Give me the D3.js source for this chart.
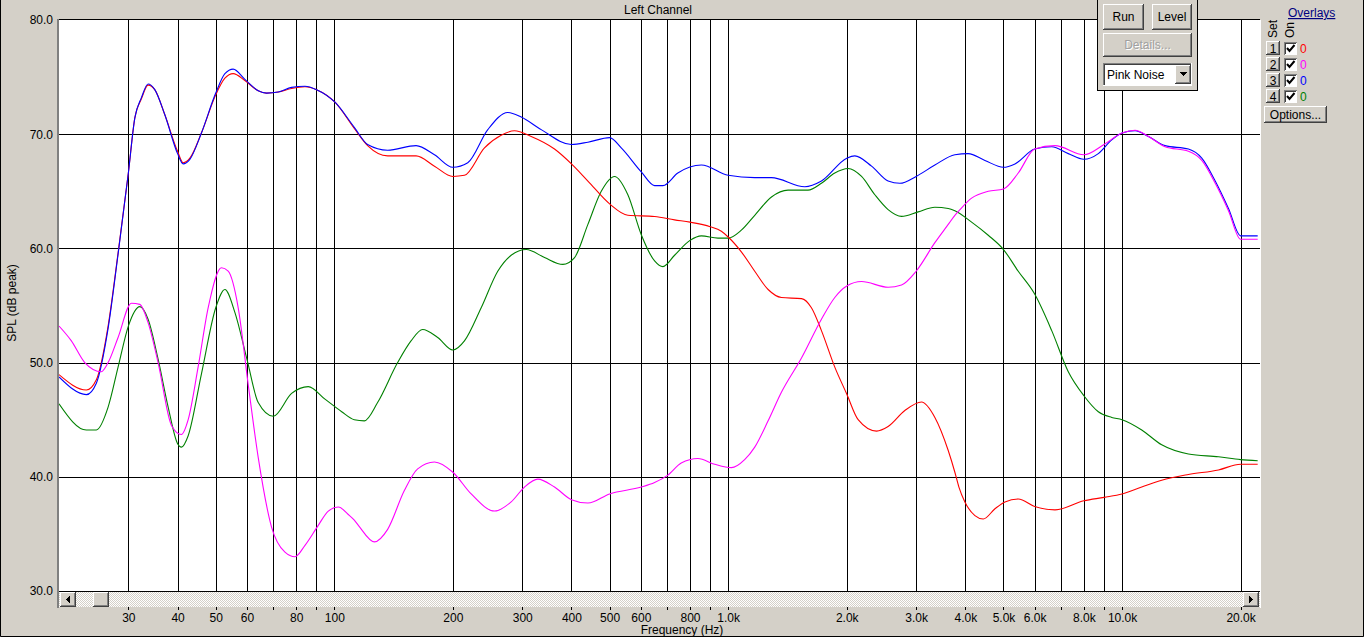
<!DOCTYPE html>
<html><head><meta charset="utf-8">
<script src="https://cdn.jsdelivr.net/npm/d3@7"></script>
<style>
html,body{margin:0;padding:0;background:#D4D0C8;overflow:hidden}
svg{display:block;font-family:"Liberation Sans",Arial,sans-serif;font-size:12px}
</style></head><body>
<svg id="chart" width="1364" height="637"></svg>
<script>
// ---------- DATA ----------
const gridFreqs = [30,40,50,60,70,80,90,100,200,300,400,500,600,700,800,900,1000,2000,3000,4000,5000,6000,7000,8000,9000,10000,20000];
const labelFreqs = [30,40,50,60,80,100,200,300,400,500,600,800,1000,2000,3000,4000,5000,6000,8000,10000,20000];
const labelTexts = ["30","40","50","60","80","100","200","300","400","500","600","800","1.0k","2.0k","3.0k","4.0k","5.0k","6.0k","8.0k","10.0k","20.0k"];
const dbTicks = [30,40,50,60,70,80];
const dbGrid = [40,50,60,70];

// Overlay 1 (red)
const set1 = [[20,48.95],[23.47,47.6],[24.88,48.5],[26.65,53.2],[28.25,59.6],[30,66.6],[31.15,71.4],[32.38,73.1],[33.67,74.3],[35.01,73.9],[37.13,71.7],[40,68.5],[41.33,67.5],[42.98,67.9],[45.98,70.1],[50,73.45],[52.75,74.9],[55.37,75.3],[59.29,74.7],[64.09,73.8],[67.29,73.6],[72.07,73.7],[77.9,74.0],[84.25,74.15],[90.15,73.9],[100.4,72.8],[112.4,70.5],[121.5,69.0],[136.6,68.1],[161.3,68.1],[179.6,67.2],[200,66.3],[214,66.4],[240.6,68.8],[265.2,69.9],[286.7,70.3],[316.2,69.8],[362.3,68.7],[400,67.4],[440.4,65.9],[500,63.9],[556.3,62.9],[650.4,62.8],[731,62.5],[800,62.3],[900,61.9],[961,61.5],[1000,61.0],[1080,59.7],[1168,58.0],[1263,56.4],[1365,55.7],[1535,55.6],[1627,54.8],[1725,52.8],[1865,49.6],[2000,47.25],[2138,45.0],[2381,44.0],[2547,44.4],[2809,45.8],[3097,46.55],[3348,45.2],[3620,42.3],[3763,40.4],[3853,39.1],[3990,37.8],[4231,36.6],[4442,36.3],[4757,37.2],[5043,37.8],[5451,38.05],[6000,37.4],[6757,37.1],[8000,37.9],[9000,38.2],[10000,38.5],[11220,39.1],[12610,39.7],[14740,40.2],[17570,40.6],[20000,41.1],[22100,41.1]];

// Overlay 2 (magenta)
const set2 = [[20,53.2],[21.5,51.9],[23.25,50.0],[25.62,49.2],[26.65,50.0],[28.25,52.2],[30.54,55.2],[32.08,55.1],[33.67,53.5],[35.7,50.0],[38.6,44.5],[40.92,43.7],[42.56,45.0],[45.1,49.6],[47.83,54.8],[51.71,58.3],[53.78,58.0],[57.02,54.8],[60.44,48.1],[64.09,41.7],[69.29,35.6],[74.94,33.4],[79.46,33.0],[84.25,34.0],[91.05,35.75],[96.56,37.0],[102.4,37.35],[108.5,36.7],[112.4,36.2],[115.1,35.75],[126.4,34.3],[136.6,35.4],[150.6,38.8],[162.8,40.7],[179.6,41.3],[200,40.4],[222.6,38.5],[255.1,37.0],[281.2,37.8],[304,39.1],[328.6,39.8],[362.3,39.1],[400,38.0],[440.4,37.7],[500,38.5],[601.7,39.1],[650.4,39.5],[700,40.1],[760,41.2],[838,41.6],[924,41.1],[1019,40.8],[1101,41.5],[1168,42.6],[1263,44.9],[1365,47.4],[1535,50.4],[1725,53.8],[1865,55.7],[2000,56.7],[2181,57.1],[2547,56.6],[2755,56.8],[3000,58.0],[3348,60.5],[3620,62.1],[3763,62.9],[3877,63.4],[4150,64.4],[4574,65.0],[5000,65.2],[5451,66.6],[6000,68.7],[6757,69.0],[8000,68.2],[9000,69.1],[10000,70.1],[10790,70.35],[11670,69.8],[12860,68.9],[14740,68.5],[15940,67.7],[17240,65.7],[18630,63.3],[20000,60.8],[22100,60.8]];

// Overlay 3 (blue)
const set3 = [[20,48.75],[23.47,47.2],[24.88,48.2],[26.65,53.0],[28.25,59.5],[30,66.6],[31.15,71.4],[32.38,73.2],[33.67,74.4],[35.01,73.9],[37.13,71.7],[40,68.3],[41.33,67.4],[42.98,67.8],[45.98,70.1],[50,73.6],[52.75,75.3],[55.37,75.7],[59.29,74.8],[64.09,73.8],[67.29,73.6],[72.07,73.7],[77.9,74.1],[84.25,74.2],[90.15,73.9],[100.4,72.8],[112.4,70.6],[121.5,69.1],[136.6,68.6],[161.3,69.0],[179.6,68.2],[200,67.1],[218.2,67.5],[245.3,70.4],[275.7,71.9],[298.2,71.5],[335.2,70.4],[400,69.1],[440.4,69.3],[500,69.7],[535.2,68.8],[601.7,66.7],[650.4,65.5],[683,65.5],[745,66.6],[855,67.3],[1000,66.4],[1168,66.2],[1288,66.2],[1565,65.4],[1725,65.9],[2000,67.9],[2097,68.1],[2312,67.2],[2547,65.9],[2729,65.7],[3000,66.3],[3348,67.3],[3763,68.2],[4068,68.3],[4486,67.7],[5000,67.1],[5347,67.4],[6000,68.7],[6629,68.9],[7303,68.3],[8000,67.8],[8705,68.3],[9415,69.5],[10000,70.1],[10790,70.3],[11670,69.8],[12860,69.0],[14740,68.7],[15940,67.9],[17240,65.9],[18630,63.5],[20000,61.1],[22100,61.1]];

// Overlay 4 (green)
const set4 = [[20,46.4],[23.47,44.1],[24.88,44.1],[26.65,46.1],[28.25,49.6],[30,53.2],[32.08,54.9],[33.67,53.8],[35.7,50.3],[37.86,46.1],[40,42.9],[40.92,42.6],[42.56,43.6],[45.98,49.0],[50,54.8],[52.75,56.4],[55.92,54.4],[60,50.3],[64.09,46.5],[70,45.3],[77.9,47.3],[85.89,47.9],[94.7,46.8],[104.4,45.7],[112.4,45.0],[119.2,44.9],[128.8,46.5],[144.8,50.0],[156.6,51.9],[167.6,52.9],[183,52.2],[200,51.1],[214,51.9],[236,54.8],[260,58.0],[281.2,59.4],[307.1,59.9],[341.8,59.2],[380.4,58.6],[407.4,59.2],[440.4,62.1],[476.2,65.0],[514.6,66.3],[556.3,64.7],[601.7,61.2],[650.4,58.9],[683,58.4],[731,59.4],[800,60.7],[855,61.1],[942,60.9],[1000,60.9],[1080,61.6],[1168,62.9],[1288,64.5],[1419,65.1],[1595,65.1],[1725,65.7],[1865,66.6],[2016,67.0],[2181,66.3],[2357,64.7],[2547,63.4],[2755,62.8],[3037,63.2],[3348,63.6],[3620,63.5],[3763,63.3],[4150,62.3],[4574,61.15],[5000,59.9],[5451,58.0],[6000,56.0],[6629,52.8],[7303,49.2],[8000,47.1],[8705,45.7],[9415,45.2],[10000,45.0],[11220,44.1],[12610,42.8],[14740,42.0],[17570,41.75],[20000,41.5],[22100,41.4]];

const overlayNames = ["1","2","3","4"];
const overlayColors = ["#FF0000","#FF00FF","#0000FF","#008000"];
const overlayValues = ["0","0","0","0"];

// ---------- LAYOUT ----------
const W = 1364, H = 637;
const L = 59, R = 1260, T = 20, B = 591;
const svg = d3.select("#chart");
const x = d3.scaleLog().domain([20, 22400]).range([L, R]);
const y = d3.scaleLinear().domain([30, 80]).range([B, T]);
const FACE = "#D4D0C8";

// outer frame
svg.append("rect").attr("x",0).attr("y",0).attr("width",W).attr("height",H).attr("fill",FACE);
svg.append("path").attr("d",`M0.5,0 V${H-0.5} H${W-0.5} V0`).attr("fill","none").attr("stroke","#000");

// defs
const defs = svg.append("defs");
const pat = defs.append("pattern").attr("id","dither").attr("width",2).attr("height",2).attr("patternUnits","userSpaceOnUse");
pat.append("rect").attr("width",2).attr("height",2).attr("fill","#FFFFFF");
pat.append("rect").attr("x",0).attr("y",0).attr("width",1).attr("height",1).attr("fill",FACE);
pat.append("rect").attr("x",1).attr("y",1).attr("width",1).attr("height",1).attr("fill",FACE);
defs.append("clipPath").attr("id","plotclip").append("rect").attr("x",L).attr("y",T).attr("width",R-L).attr("height",B-T);

// plot background
svg.append("rect").attr("x",L).attr("y",T).attr("width",R-L).attr("height",B-T).attr("fill","#FFFFFF");

// grid
const grid = svg.append("g").attr("shape-rendering","crispEdges");
grid.selectAll("line.v").data(gridFreqs).join("line").attr("class","v")
  .attr("x1",d=>Math.round(x(d))+0.5).attr("x2",d=>Math.round(x(d))+0.5)
  .attr("y1",T).attr("y2",B).attr("stroke","#000").attr("stroke-width",1);
grid.selectAll("line.h").data(dbGrid).join("line").attr("class","h")
  .attr("x1",L).attr("x2",R).attr("y1",d=>Math.round(y(d))+0.5).attr("y2",d=>Math.round(y(d))+0.5)
  .attr("stroke","#000").attr("stroke-width",1);

// curves
const line = d3.line().x(d=>x(d[0])).y(d=>y(d[1])).curve(d3.curveMonotoneX);
const curves = svg.append("g").attr("clip-path","url(#plotclip)");
[[set4,3],[set1,0],[set3,2],[set2,1]].forEach(([data,i])=>{
  curves.append("path").datum(data).attr("d",line)
    .attr("fill","none").attr("stroke",overlayColors[i]).attr("stroke-width",1.1);
});

// plot border (sunken)
const bd = svg.append("g").attr("shape-rendering","crispEdges");
bd.append("line").attr("x1",L-2).attr("x2",R).attr("y1",T-0.5).attr("y2",T-0.5).attr("stroke","#000");
bd.append("line").attr("x1",L-1.5).attr("x2",L-1.5).attr("y1",T-1).attr("y2",608).attr("stroke","#808080").attr("stroke-width",2);
bd.append("line").attr("x1",L).attr("x2",R).attr("y1",B+0.5).attr("y2",B+0.5).attr("stroke","#000");
bd.append("line").attr("x1",R+0.5).attr("x2",R+0.5).attr("y1",T).attr("y2",608).attr("stroke","#FFFFFF");

// scrollbar
const sb = svg.append("g").attr("shape-rendering","crispEdges");
sb.append("rect").attr("x",L).attr("y",B+1).attr("width",R-L).attr("height",15).attr("fill","url(#dither)");
function button(g, bx, by, bw, bh, pressed){
  g.append("rect").attr("x",bx).attr("y",by).attr("width",bw).attr("height",bh).attr("fill",FACE);
  g.append("path").attr("d",`M${bx+0.5},${by+bh-1} V${by+0.5} H${bx+bw-1}`).attr("fill","none").attr("stroke","#FFFFFF");
  g.append("path").attr("d",`M${bx},${by+bh-0.5} H${bx+bw-0.5} V${by}`).attr("fill","none").attr("stroke","#404040");
  g.append("path").attr("d",`M${bx+1},${by+bh-1.5} H${bx+bw-1.5} V${by+1}`).attr("fill","none").attr("stroke","#808080");
}
button(sb, 60, B+1, 16, 15);
sb.append("path").attr("d",`M66,${B+8.5} L70,${B+4.5} L70,${B+12.5} Z`).attr("fill","#000");
button(sb, 93, B+1, 16, 15);
button(sb, 1243, B+1, 16, 15);
sb.append("path").attr("d",`M1253,${B+8.5} L1249,${B+4.5} L1249,${B+12.5} Z`).attr("fill","#000");

// x axis
const xAxis = d3.axisBottom(x).tickValues(gridFreqs).tickSize(3).tickSizeOuter(0).tickPadding(3)
  .tickFormat(d=>{const i = labelFreqs.indexOf(d); return i>=0 ? labelTexts[i] : "";});
const gx = svg.append("g").attr("transform","translate(0,607)").call(xAxis);
gx.select(".domain").remove();
gx.selectAll("line").attr("stroke","#000").attr("shape-rendering","crispEdges");
gx.selectAll("text").attr("fill","#000").style("font-size","12px").style("font-family",'"Liberation Sans",Arial,sans-serif');

// y axis
const yAxis = d3.axisLeft(y).tickValues(dbTicks).tickSize(0).tickPadding(3).tickFormat(d3.format(".1f"));
const gy = svg.append("g").attr("transform",`translate(${L-3},0)`).call(yAxis);
gy.select(".domain").remove();
gy.selectAll("text").attr("fill","#000").style("font-size","12px").style("font-family",'"Liberation Sans",Arial,sans-serif');

// titles
svg.append("text").attr("x",658).attr("y",14).attr("text-anchor","middle").text("Left Channel");
svg.append("text").attr("x",682).attr("y",634).attr("text-anchor","middle").text("Frequency (Hz)");
svg.append("text").attr("transform","translate(16,303) rotate(-90)").attr("text-anchor","middle").text("SPL (dB peak)");

// control panel
const cp = svg.append("g").attr("shape-rendering","crispEdges");
cp.append("rect").attr("x",1097.5).attr("y",-1).attr("width",100).attr("height",91.5).attr("fill",FACE).attr("stroke","#000");
button(cp, 1103, 4, 41, 26);
cp.append("text").attr("x",1123.5).attr("y",21).attr("text-anchor","middle").text("Run");
button(cp, 1152, 4, 40, 26);
cp.append("text").attr("x",1172).attr("y",21).attr("text-anchor","middle").text("Level");
button(cp, 1103, 33, 89, 24);
cp.append("text").attr("x",1148.5).attr("y",50).attr("text-anchor","middle").attr("fill","#FFFFFF").text("Details...");
cp.append("text").attr("x",1147.5).attr("y",49).attr("text-anchor","middle").attr("fill","#A0A0A0").text("Details...");
// dropdown
cp.append("rect").attr("x",1103).attr("y",63).attr("width",89).attr("height",23).attr("fill","#FFFFFF");
cp.append("path").attr("d","M1103.5,86 V63.5 H1192").attr("fill","none").attr("stroke","#808080");
cp.append("path").attr("d","M1104.5,85 V64.5 H1191").attr("fill","none").attr("stroke","#404040");
cp.append("path").attr("d","M1103,85.5 H1191.5 V63").attr("fill","none").attr("stroke","#FFFFFF");
cp.append("text").attr("x",1107).attr("y",79).text("Pink Noise");
button(cp, 1175, 65, 16, 19);
cp.append("path").attr("d","M1179,72 L1187,72 L1183,76 Z").attr("fill","#000");

// overlays panel
svg.append("text").attr("x",1288).attr("y",17).attr("fill","#000080").attr("text-decoration","underline").text("Overlays");
svg.append("text").attr("transform","translate(1277,38) rotate(-90)").text("Set");
svg.append("text").attr("transform","translate(1294,38) rotate(-90)").text("On");
const ov = svg.append("g").attr("shape-rendering","crispEdges");
overlayNames.forEach((n,i)=>{
  const cy = 48 + i*16;
  button(ov, 1266, cy-7, 14, 14);
  ov.append("text").attr("x",1273).attr("y",cy+4.5).attr("text-anchor","middle").text(n);
  ov.append("rect").attr("x",1284).attr("y",cy-6).attr("width",13).attr("height",13).attr("fill","#FFFFFF");
  ov.append("path").attr("d",`M${1284.5},${cy+7} V${cy-5.5} H${1297}`).attr("fill","none").attr("stroke","#808080");
  ov.append("path").attr("d",`M${1285.5},${cy+6} V${cy-4.5} H${1296}`).attr("fill","none").attr("stroke","#404040");
  ov.append("path").attr("d",`M${1287},${cy} L${1289.5},${cy+3} L${1294.5},${cy-3}`).attr("fill","none").attr("stroke","#000").attr("stroke-width",2).attr("shape-rendering","auto");
  ov.append("text").attr("x",1300).attr("y",cy+4.5).attr("fill",overlayColors[i]).text(overlayValues[i]);
});
button(ov, 1264, 106, 63, 17);
svg.append("text").attr("x",1295.5).attr("y",119).attr("text-anchor","middle").text("Options...");
</script>
</body></html>
